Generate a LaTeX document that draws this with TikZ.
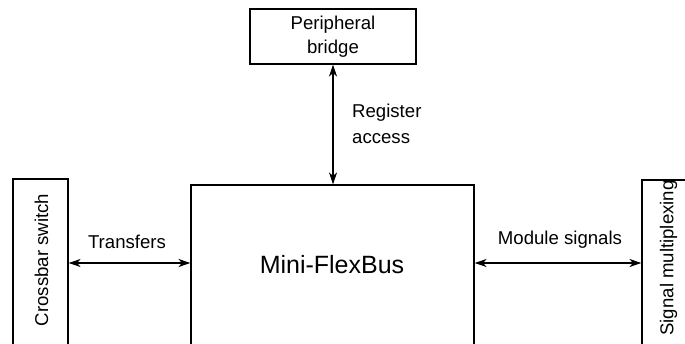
\documentclass[tikz,border=0pt]{standalone}
\usepackage{fontspec}
\setmainfont{Liberation Sans}
\usetikzlibrary{arrows.meta}
\begin{document}
\begin{tikzpicture}[x=1pt,y=-1pt,
  blk/.style={draw,line width=1.1pt,inner sep=0pt},
  lbl/.style={font=\fontsize{18.6}{23}\selectfont,inner sep=0pt},
  arr/.style={{Stealth[length=12pt,width=8pt,inset=3.5pt]}-{Stealth[length=12pt,width=8pt,inset=3.5pt]},line width=1.1pt}]
\useasboundingbox (0,0) rectangle (685,344);
\clip (0,0) rectangle (685,344);
\fill[white] (0,0) rectangle (685,344);
% boxes
\node[blk,minimum width=166pt,minimum height=55pt,align=center,font=\fontsize{18.6}{23.5}\selectfont] (pb) at (333,36.5) {Peripheral\\bridge};
\node[blk,minimum width=283pt,minimum height=215pt] (main) at (332.5,292.5) {};
\node[lbl,font=\fontsize{25}{30}\selectfont] (mlabel) at (332,265) {Mini-FlexBus};
\node[blk,minimum width=55pt,minimum height=221pt] (cs) at (40.5,289.5) {};
\node[lbl,rotate=90] (cslabel) at (41.5,260) {Crossbar switch};
\node[blk,minimum width=60pt,minimum height=220pt] (sm) at (672,290) {};
\node[lbl,rotate=90] (smlabel) at (668.5,258) {Signal multiplexing};
% connectors
\coordinate (ay) at (0,263);
\draw[arr] (cs.east |- ay) -- (main.west |- ay);
\draw[arr] (main.east |- ay) -- (sm.west |- ay);
\draw[arr] (pb.south) -- (pb.south |- main.north);
% labels
\node[lbl] (tr) at (127,242) {Transfers};
\node[lbl] (ms) at (560,240) {Module signals};
\node[lbl,align=left,anchor=west,font=\fontsize{18.6}{26}\selectfont] (ra) at (352,124) {Register\\access};
\end{tikzpicture}
\end{document}
